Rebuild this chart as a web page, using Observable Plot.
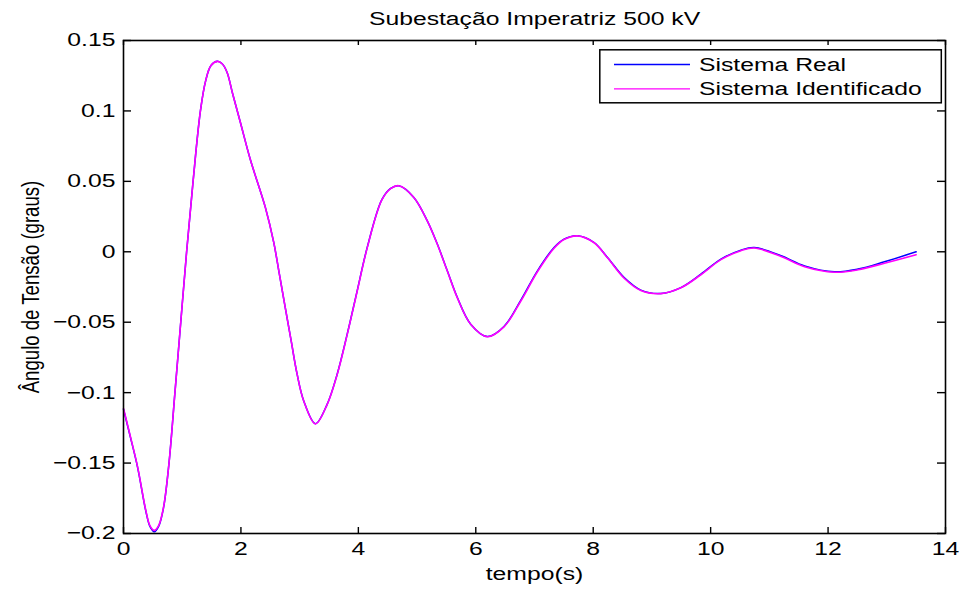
<!DOCTYPE html>
<html>
<head>
<meta charset="utf-8">
<script src="https://cdn.jsdelivr.net/npm/d3@7"></script>
<script src="https://cdn.jsdelivr.net/npm/@observablehq/plot@0.6"></script>
<style>
  html, body { margin: 0; padding: 0; background: #fff; }
  #chart { position: relative; width: 963px; height: 590px; }
  #legend { position: absolute; left: 599px; top: 49px; }
</style>
</head>
<body>
<div id="chart"></div>
<script>
// Time samples (s) and voltage angle (graus) of the two systems
const tempo = [0, 0.12, 0.24, 0.38, 0.45, 0.524, 0.6, 0.682, 0.775, 0.876, 0.975, 1.075, 1.185,
  1.31, 1.40, 1.49, 1.60, 1.68, 1.763, 1.86, 1.99, 2.16, 2.416, 2.558, 2.655, 2.755, 2.856,
  2.957, 3.07, 3.269, 3.468, 3.639, 3.81, 3.98, 4.151, 4.40, 4.55, 4.69, 4.945, 5.174, 5.345,
  5.515, 5.686, 5.913, 6.197, 6.48, 6.765, 7.05, 7.333, 7.503, 7.731, 8.015, 8.243, 8.527,
  8.811, 9.152, 9.493, 9.834, 10.175, 10.516, 10.744, 11.2, 11.6, 12.11, 12.51, 12.96, 13.5];

const sistemaReal = [-0.1118, -0.132, -0.153, -0.184, -0.195, -0.1988, -0.1948, -0.1817, -0.150,
  -0.100, -0.050, 0.000, 0.050, 0.100, 0.1215, 0.1322, 0.1352, 0.1335, 0.1275, 0.112, 0.092,
  0.0655, 0.0315, 0.0068, -0.0159, -0.0396, -0.0633, -0.0869, -0.1059, -0.122, -0.1083, -0.0869,
  -0.0585, -0.0277, 0.0031, 0.037, 0.045, 0.0469, 0.0386, 0.022, 0.0055, -0.0135, -0.0325,
  -0.0514, -0.0602, -0.053, -0.0345, -0.0135, 0.0031, 0.009, 0.0114, 0.0066, -0.004, -0.0183,
  -0.0272, -0.0296, -0.0254, -0.0159, -0.0052, 0.0012, 0.003, -0.0028, -0.010, -0.0142, -0.0123,
  -0.0071, 0.000];

const sistemaIdentificado = [-0.1112, -0.1316, -0.1527, -0.1836, -0.1944, -0.1978, -0.1942, -0.1813,
  -0.150, -0.100, -0.050, 0.000, 0.050, 0.100, 0.1215, 0.1322, 0.1352, 0.1335, 0.1275, 0.112,
  0.092, 0.0655, 0.0315, 0.0068, -0.0159, -0.0396, -0.0633, -0.0869, -0.1059, -0.1222, -0.1085,
  -0.0872, -0.0588, -0.0280, 0.0028, 0.0368, 0.0449, 0.0469, 0.0386, 0.0219, 0.0053, -0.0137,
  -0.0327, -0.0515, -0.0603, -0.0533, -0.0351, -0.0142, 0.0025, 0.0087, 0.0113, 0.0064, -0.0043,
  -0.0188, -0.0275, -0.0297, -0.0256, -0.0163, -0.0056, 0.0008, 0.0027, -0.0034, -0.0106, -0.0145,
  -0.0128, -0.0081, -0.0021];

const seriesNames = ["Sistema Real", "Sistema Identificado"];
const seriesColors = ["#0000ff", "#ff00ff"];

const xTicks = [0, 2, 4, 6, 8, 10, 12, 14];
const xTickLabels = ["0", "2", "4", "6", "8", "10", "12", "14"];
const yTicks = [-0.2, -0.15, -0.1, -0.05, 0, 0.05, 0.1, 0.15];
const yTickLabels = ["\u22120.2", "\u22120.15", "\u22120.1", "\u22120.05", "0", "0.05", "0.1", "0.15"];

const titulo = "Subestação Imperatriz 500 kV";
const rotuloX = "tempo(s)";
const rotuloY = "Ângulo de Tensão (graus)";

const real = tempo.map((t, i) => ({t, v: sistemaReal[i]}));
const identificado = tempo.map((t, i) => ({t, v: sistemaIdentificado[i]}));

const W = 963, H = 590;
const mL = 123, mR = 18, mT = 40, mB = 57;
const innerW = W - mL - mR, innerH = H - mT - mB;
const fs = 18.6;
const font = "'Liberation Sans', Arial, Helvetica, sans-serif";

const chart = Plot.plot({
  width: W, height: H,
  marginLeft: mL, marginRight: mR, marginTop: mT, marginBottom: mB,
  style: {fontFamily: font, fontSize: fs + "px", background: "#fff", color: "#000", overflow: "visible"},
  x: {domain: [0, 14], axis: null},
  y: {domain: [-0.2, 0.15], axis: null},
  marks: [
    // inward ticks on all four sides
    Plot.tickX(xTicks, {x: d => d, insetTop: innerH - 6, stroke: "#000", strokeWidth: 1.4}),
    Plot.tickX(xTicks, {x: d => d, insetBottom: innerH - 5, stroke: "#000", strokeWidth: 1.4}),
    Plot.tickY(yTicks, {y: d => d, insetRight: innerW - 8, stroke: "#000", strokeWidth: 1.4}),
    Plot.tickY(yTicks, {y: d => d, insetLeft: innerW - 8, stroke: "#000", strokeWidth: 1.4}),
    Plot.line(real, {x: "t", y: "v", stroke: seriesColors[0], strokeWidth: 1.5, curve: "catmull-rom"}),
    Plot.line(identificado, {x: "t", y: "v", stroke: seriesColors[1], strokeWidth: 1.6, curve: "catmull-rom"}),
    Plot.frame({stroke: "#000", strokeWidth: 1.6}),
    Plot.text(xTicks, {x: d => d, frameAnchor: "bottom", lineAnchor: "top", dy: 8,
      text: (d, i) => xTickLabels[i], fontSize: fs, fill: "#000"}),
    Plot.text(yTicks, {y: d => d, frameAnchor: "left", textAnchor: "end", dx: -8,
      text: (d, i) => yTickLabels[i], fontSize: fs, fill: "#000"}),
    Plot.text([titulo], {frameAnchor: "top", lineAnchor: "bottom", dy: -16, text: d => d, fontSize: fs, fill: "#000"}),
    Plot.text([rotuloX], {frameAnchor: "bottom", lineAnchor: "bottom", dy: 46, text: d => d, fontSize: fs, fill: "#000"}),
    Plot.text([rotuloY], {frameAnchor: "left", textAnchor: "middle", rotate: -90, dx: -92,
      text: d => d, fontSize: fs, fill: "#000"})
  ]
});

// widen all lettering horizontally (rotated labels get the stretch across their own y axis)
chart.querySelectorAll("text").forEach(t => {
  const tr = t.getAttribute("transform") || "";
  t.setAttribute("transform", tr + (/rotate/.test(tr) ? " scale(1,1.33)" : " scale(1.33,1)"));
});

const host = document.getElementById("chart");
host.appendChild(chart);

// legend box in the upper right corner
const leg = d3.select(host).append("svg")
  .attr("id", "legend")
  .attr("width", 344).attr("height", 55)
  .style("font-family", font).style("font-size", fs + "px");
leg.append("rect").attr("x", 0.8).attr("y", 0.8).attr("width", 341.5).attr("height", 53)
  .attr("fill", "#fff").attr("stroke", "#000").attr("stroke-width", 1.5);
seriesNames.forEach((name, i) => {
  const cy = 15.5 + i * 24.3;
  leg.append("line").attr("x1", 15).attr("x2", 91).attr("y1", cy).attr("y2", cy)
    .attr("stroke", seriesColors[i]).attr("stroke-width", 1.3);
  leg.append("text").attr("transform", `translate(100,${cy + 6.6}) scale(1.33,1)`)
    .attr("fill", "#000").text(name);
});
</script>
</body>
</html>
